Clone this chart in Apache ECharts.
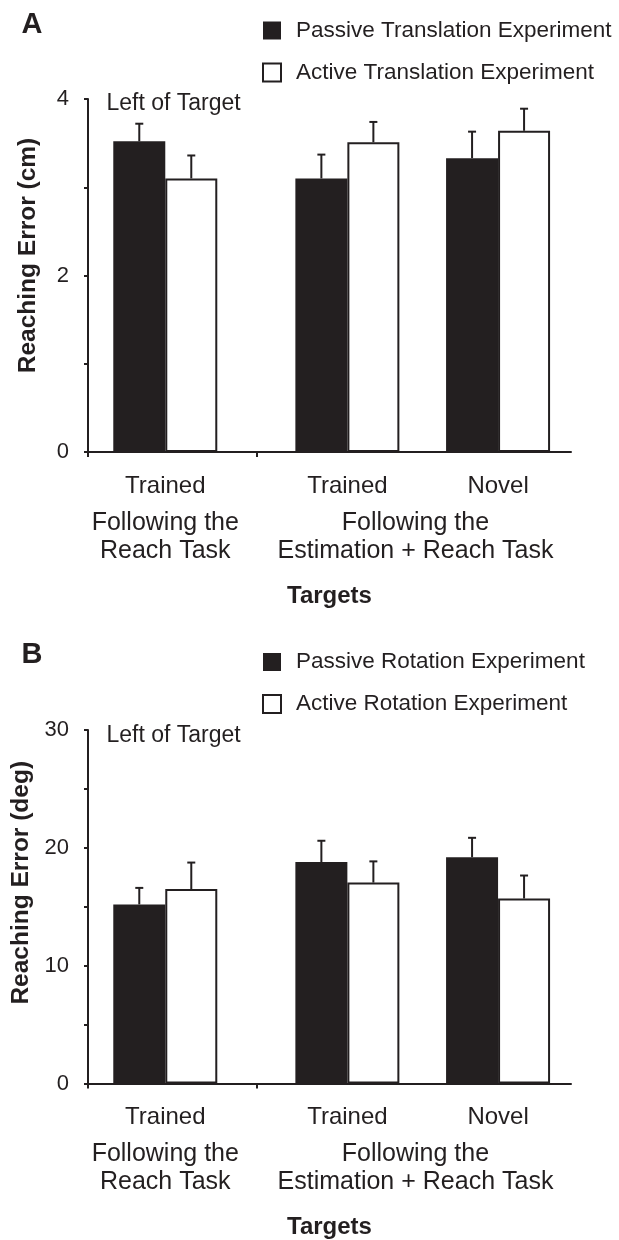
<!DOCTYPE html>
<html>
<head>
<meta charset="utf-8">
<script src="https://cdn.jsdelivr.net/npm/echarts@6/dist/echarts.min.js"></script>
<style>
  html, body { margin: 0; padding: 0; background: #fff; }
  #chart { width: 619px; height: 1240px; }
</style>
</head>
<body>
<div id="chart"></div>
<script>
// ---------- data ----------
const groupNames = ['Trained', 'Trained', 'Novel'];
const groupPos = [1.6, 5.37, 8.49];
const taskNames = ['Following the\nReach Task', 'Following the\nEstimation + Reach Task'];
const taskPos = [1.6, 6.78];
const dividerTicks = [0, 3.49];

const seriesNamesA = ['Passive Translation Experiment', 'Active Translation Experiment'];
const passiveTransMean = [3.52, 3.10, 3.33];
const passiveTransSem = [0.20, 0.27, 0.30];
const activeTransMean = [3.10, 3.51, 3.64];
const activeTransSem = [0.26, 0.23, 0.25];

const seriesNamesB = ['Passive Rotation Experiment', 'Active Rotation Experiment'];
const passiveRotMean = [15.2, 18.8, 19.2];
const passiveRotSem = [1.4, 1.8, 1.65];
const activeRotMean = [16.5, 17.05, 15.7];
const activeRotSem = [2.25, 1.8, 1.95];

const yTitleA = 'Reaching Error (cm)';
const yTitleB = 'Reaching Error (deg)';
const xTitle = 'Targets';
const note = 'Left of Target';

// ---------- styling ----------
const ink = '#231f20';
const FONT = '"Liberation Sans", Arial, Helvetica, sans-serif';
const BAR_W = 52;

function nearestLabel(list, pos, v) {
  let best = 0;
  for (let i = 1; i < pos.length; i++) {
    if (Math.abs(pos[i] - v) < Math.abs(pos[best] - v)) best = i;
  }
  return list[best];
}

function barData(means) {
  return means.map((m, i) => [groupPos[i], m]);
}
function errData(means, sems) {
  return means.map((m, i) => [groupPos[i], m, sems[i]]);
}
function errRender(offsetPx) {
  return function (params, api) {
    const x = api.value(0), m = api.value(1), s = api.value(2);
    const p0 = api.coord([x, m]);
    const p1 = api.coord([x, m + s]);
    const cx = p0[0] + offsetPx;
    return {
      type: 'group',
      children: [
        { type: 'line', shape: { x1: cx, y1: p0[1], x2: cx, y2: p1[1] }, style: { stroke: ink, lineWidth: 2 } },
        { type: 'line', shape: { x1: cx - 4, y1: p1[1], x2: cx + 4, y2: p1[1] }, style: { stroke: ink, lineWidth: 2 } }
      ]
    };
  };
}

function xAxesFor(gridIndex) {
  return [
    {
      type: 'value', gridIndex: gridIndex, min: 0, max: 10, position: 'bottom',
      axisLine: { show: true, onZero: false, lineStyle: { color: ink, width: 2 } },
      axisTick: { show: true, customValues: dividerTicks, length: 5, lineStyle: { color: ink, width: 2 } },
      axisLabel: {
        customValues: groupPos, margin: 22, color: ink, fontFamily: FONT, fontSize: 24, lineHeight: 24,
        formatter: v => nearestLabel(groupNames, groupPos, v)
      },
      splitLine: { show: false }
    },
    {
      type: 'value', gridIndex: gridIndex, min: 0, max: 10, position: 'bottom',
      axisLine: { show: false }, axisTick: { show: false }, splitLine: { show: false },
      axisLabel: {
        customValues: taskPos, margin: 57, color: ink, fontFamily: FONT, fontSize: 25, lineHeight: 28,
        formatter: v => nearestLabel(taskNames, taskPos, v)
      },
      name: xTitle, nameLocation: 'middle', nameGap: 132,
      nameTextStyle: { color: ink, fontFamily: FONT, fontSize: 24, fontWeight: 'bold', lineHeight: 24 }
    }
  ];
}

function yAxisFor(gridIndex, max, interval, labelEvery, title, shift) {
  return {
    type: 'value', gridIndex: gridIndex, min: 0, max: max, interval: interval,
    axisLine: { show: true, lineStyle: { color: ink, width: 2 } },
    axisTick: { show: true, length: 4, lineStyle: { color: ink, width: 2 } },
    axisLabel: {
      margin: 19, color: ink, fontFamily: FONT, fontSize: 22,
      formatter: v => (Math.abs(v % labelEvery) < 1e-9 ? String(v) : '')
    },
    splitLine: { show: false },
    name: title, nameLocation: 'middle', nameRotate: 90, nameGap: 47,
    nameTextStyle: { color: ink, fontFamily: FONT, fontSize: 24.5, fontWeight: 'bold', padding: [0, 0, 0, shift * 2] }
  };
}

function legendFor(names, top) {
  return {
    data: names, orient: 'vertical', left: 262, top: top, padding: 0,
    icon: 'rect', itemWidth: 18, itemHeight: 18, itemGap: 19,
    selectedMode: false,
    textStyle: { color: ink, fontFamily: FONT, fontSize: 22.5, lineHeight: 22, padding: [0, 0, 0, 10] }
  };
}

function seriesFor(names, xi, yi, pMean, pSem, aMean, aSem) {
  return [
    {
      name: names[0], type: 'bar', xAxisIndex: xi, yAxisIndex: yi, barWidth: BAR_W, barGap: '0%',
      data: barData(pMean), itemStyle: { color: ink }, silent: true
    },
    {
      name: names[1], type: 'bar', xAxisIndex: xi, yAxisIndex: yi, barWidth: BAR_W, barGap: '0%',
      data: barData(aMean), itemStyle: { color: '#ffffff', borderColor: ink, borderWidth: 2 }, silent: true
    },
    {
      name: names[0] + ' SEM', type: 'custom', xAxisIndex: xi, yAxisIndex: yi, z: 5, silent: true,
      renderItem: errRender(-BAR_W / 2), encode: { x: 0, y: 1 }, data: errData(pMean, pSem)
    },
    {
      name: names[1] + ' SEM', type: 'custom', xAxisIndex: xi, yAxisIndex: yi, z: 5, silent: true,
      renderItem: errRender(BAR_W / 2), encode: { x: 0, y: 1 }, data: errData(aMean, aSem)
    }
  ];
}

const chart = echarts.init(document.getElementById('chart'), null, { renderer: 'canvas' });

const option = {
  animation: false,
  backgroundColor: '#ffffff',
  grid: [
    { left: 88, right: 48, top: 99, height: 353, outerBoundsMode: 'none', containLabel: false },
    { left: 88, right: 48, top: 730, height: 353.5, outerBoundsMode: 'none', containLabel: false }
  ],
  xAxis: [].concat(xAxesFor(0), xAxesFor(1)),
  yAxis: [
    yAxisFor(0, 4, 1, 2, yTitleA, 20),
    yAxisFor(1, 30, 5, 10, yTitleB, 24)
  ],
  legend: [legendFor(seriesNamesA, 19), legendFor(seriesNamesB, 650.5)],
  graphic: [
    { type: 'text', x: 21.5, y: 25, style: { text: 'A', fill: ink, font: 'bold 29px ' + FONT, verticalAlign: 'middle' } },
    { type: 'text', x: 21.5, y: 655, style: { text: 'B', fill: ink, font: 'bold 29px ' + FONT, verticalAlign: 'middle' } },
    { type: 'text', x: 106.5, y: 104, style: { text: note, fill: ink, font: '23px ' + FONT, verticalAlign: 'middle' } },
    { type: 'text', x: 106.5, y: 736, style: { text: note, fill: ink, font: '23px ' + FONT, verticalAlign: 'middle' } }
  ],
  series: [].concat(
    seriesFor(seriesNamesA, 0, 0, passiveTransMean, passiveTransSem, activeTransMean, activeTransSem),
    seriesFor(seriesNamesB, 2, 1, passiveRotMean, passiveRotSem, activeRotMean, activeRotSem)
  )
};

chart.setOption(option);
</script>
</body>
</html>
